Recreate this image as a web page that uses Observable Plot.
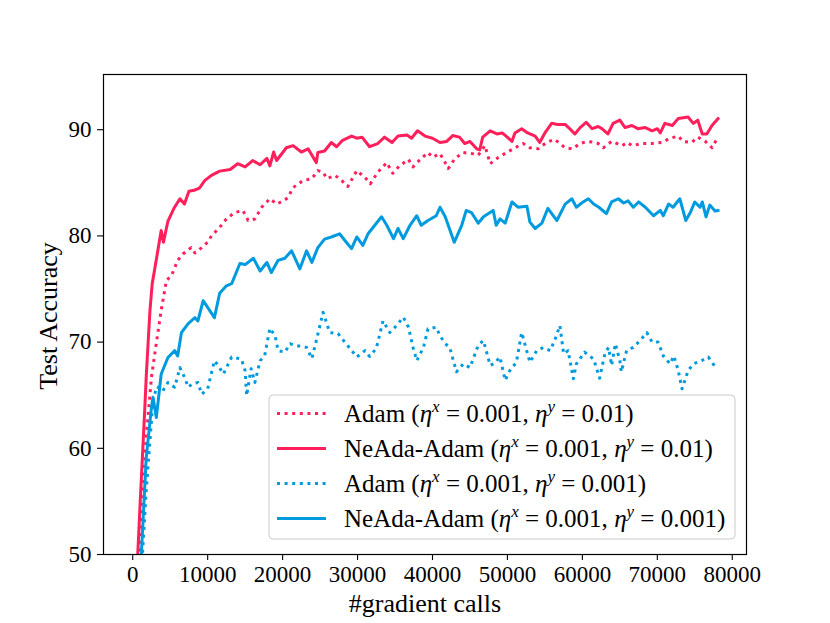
<!DOCTYPE html>
<html>
<head>
<meta charset="utf-8">
<script src="https://cdn.jsdelivr.net/npm/d3@7"></script>
<script src="https://cdn.jsdelivr.net/npm/@observablehq/plot@0.6"></script>
<style>
  html, body { margin: 0; padding: 0; background: white; }
  #chart { width: 830px; height: 623px; }
</style>
</head>
<body>
<div id="chart"></div>
<script>
// Adam (eta_x = 0.001, eta_y = 0.01)
const adamFastX = [0,850,1150,1800,2500,3150,3800,4500,5200,6000,6700,7800,8300,9200,10000,10500,11600,12500,13600,14700,15400,16300,17200,18300,19200,20100,20700,21400,22700,23900,24700,25400,25900,27000,27900,28700,29900,31000,31700,32700,33900,34700,35600,36800,37400,38500,39400,40000,41000,41700,42100,43000,44100,45300,46100,47000,47700,48800,49900,51000,52100,53000,54100,55200,56300,57700,58700,59700,60600,61700,62100,62800,63900,65300,66000,66600,68000,69300,70600,71700,72800,73400,74600,75400,76400,77300,78000];
const adamFastY = [36,50,53,61,66.7,69.9,73.0,75.8,76.3,77.7,78.3,78.9,78.4,78.9,79.4,80.0,80.8,81.6,82.2,82.4,81.45,81.6,82.7,83.5,83.0,83.3,83.6,84.55,85.2,85.4,86.15,86.0,85.4,85.7,85.2,84.65,86.15,85.5,84.9,86.0,86.9,85.9,86.6,87.2,86.5,87.3,87.85,87.4,87.75,86.9,86.35,87.3,87.85,87.75,87.6,88.5,86.8,87.4,87.85,88.3,88.7,88.3,88.2,88.8,89.1,88.3,88.2,88.7,88.9,88.8,88.7,88.3,88.9,88.5,88.8,88.5,88.7,88.7,88.8,89.2,89.4,88.9,88.8,89.3,88.9,88.3,89.2];

// NeAda-Adam (eta_x = 0.001, eta_y = 0.01)
const neadaFastX = [0,670,1000,1600,1800,2050,2300,2600,3200,3800,4100,4700,5500,6300,6900,7500,8200,8900,9600,10500,11600,13000,14000,15000,16000,17000,17900,18300,18800,19200,20500,21400,22500,23400,24500,24700,25600,26500,27200,28000,29200,29900,30600,31600,32700,33600,34600,35400,36600,37200,38000,39000,40000,41000,41900,42700,43600,44300,45000,45900,46300,46700,47700,48600,49300,49900,50600,51000,51900,52700,53700,54300,55000,55900,56700,57700,58300,59000,59700,60500,61300,62100,62600,63400,64100,65000,65700,66600,67400,68400,69300,70000,70400,71000,72000,72800,74100,74800,75400,76000,76600,77300,78100];
const neadaFastY = [38,50,55,63.6,66.7,69.9,73.0,75.5,78,80.5,79.4,81.4,82.6,83.5,83.0,84.2,84.3,84.5,85.2,85.7,86.1,86.25,86.8,86.5,87.1,86.7,87.3,86.6,87.9,87.1,88.3,88.5,87.9,88.2,86.9,87.85,88.0,88.8,88.4,89.0,89.4,89.2,89.3,88.4,88.7,89.3,88.8,89.4,89.5,89.2,89.9,89.4,89.2,88.8,88.9,89.45,89.3,88.7,88.9,88.2,88.1,89.3,89.9,89.6,89.7,89.35,88.9,89.7,90.1,89.7,89.4,88.8,89.7,90.6,90.5,90.5,90.1,89.6,90.2,90.7,90.1,90.3,90.1,89.6,90.6,90.9,90.2,90.4,90.1,90.2,89.9,90.1,89.7,90.6,90.4,91.05,91.2,90.6,90.9,89.6,89.6,90.4,91.05];

// Adam (eta_x = 0.001, eta_y = 0.001)
const adamSlowX = [0,1300,1800,2300,2700,3200,3800,4000,4700,5600,6300,6900,7400,8000,8700,9200,10000,10900,11400,12100,13200,14500,15000,15200,15800,16300,17000,17600,18300,19000,19400,20300,21000,21600,23200,23900,24500,25400,26300,27400,28300,29000,29900,31000,31600,32500,33400,34300,35200,36100,36800,37400,37900,38800,39400,40500,41000,41700,42300,43200,44100,45000,46100,46800,47700,48300,49000,49700,50300,51200,51900,53000,53900,54800,55700,56300,57000,57500,58100,58800,59200,60300,61500,62300,63000,63500,63900,64400,65000,65200,65900,66800,67700,68600,69300,70100,70800,71700,72200,72800,73300,74100,74800,75900,76800,77900];
const adamSlowY = [28,50,56,60.7,64.5,65.8,65.6,65.4,66.2,65.75,67.6,66.7,65.75,66.1,66.2,65.1,65.6,68.25,67.8,67.0,68.6,68.4,67.3,64.95,67.5,66.2,68.25,68.7,71.3,70.6,69.2,69.05,69.85,69.7,69.5,68.45,70.15,72.8,70.9,70.8,70.0,69.4,68.6,69.2,68.65,69.4,72.0,70.9,71.55,72.35,71.4,69.5,68.25,69.5,71.25,71.4,70.6,69.85,69.5,67.2,67.95,67.6,69.7,70.15,67.8,68.0,68.6,66.4,67.3,68.1,70.9,68.1,69.2,69.5,69.2,70.15,71.55,68.9,69.2,66.55,67.95,69.05,68.4,66.6,68.9,69.5,67.8,69.85,68.25,67.2,69.2,69.5,70.15,70.9,70.0,70.0,68.7,67.95,68.7,67.3,65.6,67.3,67.95,68.25,68.6,67.5];

// NeAda-Adam (eta_x = 0.001, eta_y = 0.001)
const neadaSlowX = [0,1150,1800,2500,2700,3150,3800,4700,5600,6000,6500,7400,8300,8700,9400,10900,11600,12500,13200,14300,15000,16100,17000,17900,18500,19400,20300,21200,22300,23200,23900,24700,25600,26500,27600,28500,29200,29900,30700,31400,32300,33200,33900,34800,35400,36100,37000,37900,38500,39400,40500,41000,41700,42900,43900,44500,45200,46100,46800,48100,48500,49000,49700,50600,51400,52600,53000,53700,54600,55400,56600,57700,58600,59200,60100,60800,61500,62200,63200,63900,64800,65500,66100,66800,67500,68400,69500,70400,70800,71500,72100,73000,73800,74400,75000,75700,76000,76500,77000,77700,78100];
const neadaSlowY = [30,50,59.1,63.85,64.8,62.9,67.0,68.55,69.2,68.7,70.9,71.75,72.3,72.0,73.9,72.3,74.6,75.3,75.5,77.4,77.3,77.9,76.7,77.5,76.55,77.7,77.9,78.6,76.9,78.6,77.5,78.9,79.7,79.9,80.2,79.4,78.8,79.9,79.1,80.2,81.0,81.8,81.0,79.75,80.7,79.75,81.0,81.9,81.0,81.45,81.9,82.7,81.8,79.4,81.0,82.4,82.2,81.2,81.8,82.4,81.0,81.6,81.2,83.2,82.7,82.8,81.3,80.7,81.2,82.6,81.45,83.0,83.5,82.7,83.2,83.5,83.0,82.7,82.1,83.2,83.5,83.1,83.3,82.7,83.2,82.7,81.9,82.4,81.9,83.0,82.7,83.5,81.45,82.2,83.2,82.7,83.2,81.8,82.9,82.35,82.4];

const xTicks = [0,10000,20000,30000,40000,50000,60000,70000,80000];
const yTicks = [50,60,70,80,90];

const red = "#FF1F5B";
const blue = "#009ADE";

const rows = (xs, ys) => xs.map((x, i) => ({x, y: ys[i]}));

const series = [
  {data: rows(adamFastX, adamFastY), color: red, dotted: true, method: "Adam", ey: "0.01"},
  {data: rows(neadaFastX, neadaFastY), color: red, dotted: false, method: "NeAda-Adam", ey: "0.01"},
  {data: rows(adamSlowX, adamSlowY), color: blue, dotted: true, method: "Adam", ey: "0.001"},
  {data: rows(neadaSlowX, neadaSlowY), color: blue, dotted: false, method: "NeAda-Adam", ey: "0.001"}
];

const DOT = "3,4.6";
const LW = 3;

const chart = Plot.plot({
  width: 830,
  height: 623,
  marginLeft: 103,
  marginRight: 84,
  marginTop: 74,
  marginBottom: 69,
  style: {fontFamily: "'Liberation Serif', 'Times New Roman', serif", fontSize: "23px", background: "white", color: "black", overflow: "visible"},
  x: {domain: [-3900, 81900]},
  y: {domain: [50, 95.2]},
  marks: [
    ...series.map(s => Plot.line(s.data, {
      x: "x", y: "y", stroke: s.color, strokeWidth: LW,
      strokeDasharray: s.dotted ? DOT : null,
      strokeLinecap: s.dotted ? "butt" : "square",
      strokeLinejoin: "round",
      clip: true
    })),
    Plot.frame({stroke: "black", strokeWidth: 1.2}),
    Plot.axisX({ticks: xTicks, tickSize: 6, tickPadding: 5, tickFormat: d => String(d), label: null, strokeWidth: 1.1}),
    Plot.axisY({ticks: yTicks, tickSize: 6, tickPadding: 6, tickFormat: d => String(d), label: null, strokeWidth: 1.1})
  ]
});

document.getElementById("chart").appendChild(chart);

const svg = d3.select(chart);
const font = "'Liberation Serif', 'Times New Roman', serif";

// axis labels
svg.append("text")
  .attr("x", 425).attr("y", 612)
  .attr("text-anchor", "middle")
  .attr("font-family", font).attr("font-size", 26)
  .attr("fill", "black")
  .text("#gradient calls");
svg.append("text")
  .attr("transform", "translate(57,316) rotate(-90)")
  .attr("text-anchor", "middle")
  .attr("font-family", font).attr("font-size", 26)
  .attr("fill", "black")
  .text("Test Accuracy");

// legend
const lg = svg.append("g").attr("font-family", font).attr("font-size", 25).attr("text-anchor", "start");
lg.append("rect")
  .attr("x", 269).attr("y", 395).attr("width", 466).attr("height", 144)
  .attr("rx", 4).attr("ry", 4)
  .attr("fill", "white").attr("fill-opacity", 0.8)
  .attr("stroke", "#cccccc").attr("stroke-width", 1);

series.forEach((s, i) => {
  const cy = 413.5 + i * 35;
  lg.append("line")
    .attr("x1", 277).attr("x2", 326).attr("y1", cy).attr("y2", cy)
    .attr("stroke", s.color).attr("stroke-width", LW)
    .attr("stroke-dasharray", s.dotted ? DOT : null);
  const t = lg.append("text").attr("x", 344).attr("y", cy + 8.5).attr("fill", "black").attr("text-anchor", "start");
  t.append("tspan").text(s.method + " (");
  t.append("tspan").attr("font-style", "italic").text("η");
  t.append("tspan").attr("font-style", "italic").attr("font-size", 17).attr("dy", -10).text("x");
  t.append("tspan").attr("dy", 10).text(" = 0.001, ");
  t.append("tspan").attr("font-style", "italic").text("η");
  t.append("tspan").attr("font-style", "italic").attr("font-size", 17).attr("dy", -10).text("y");
  t.append("tspan").attr("dy", 10).text(" = " + s.ey + ")");
});
</script>
</body>
</html>
